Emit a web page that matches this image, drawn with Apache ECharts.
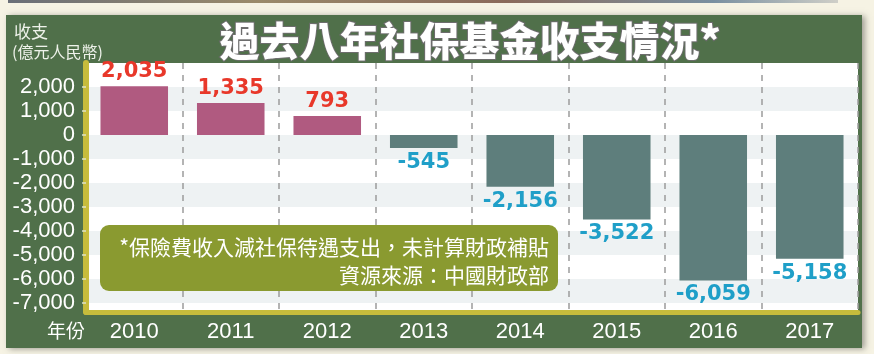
<!DOCTYPE html>
<html>
<head>
<meta charset="utf-8">
<script src="https://cdn.jsdelivr.net/npm/echarts@6/dist/echarts.min.js"></script>
<style>
html,body{margin:0;padding:0;background:#f6f3e4;}
#c{width:874px;height:354px;}
</style>
</head>
<body>
<div id="c"></div>
<script>
// ---- data ----
const categories = ['2010','2011','2012','2013','2014','2015','2016','2017'];
const balance = [2035, 1335, 793, -545, -2156, -3522, -6059, -5158];
const yTicks = [2000, 1000, 0, -1000, -2000, -3000, -4000, -5000, -6000, -7000];
const bandRanges = [[1000, 2000], [-1000, 0], [-3000, -2000], [-5000, -4000], [-7000, -6000]];
const titleText = '過去八年社保基金收支情況*';
const unitLine1 = '收支';
const unitLine2 = '(億元人民幣)';
const xName = '年份';
const note1 = '*保險費收入減社保待遇支出，未計算財政補貼';
const note2 = '資源來源：中國財政部';

const POS = '#b05a80', NEG = '#5e7e7c';
const POS_LBL = '#e8382a', NEG_LBL = '#1f9fc8';
const YELLOW = '#c7bc3c';
const CJK = '"Noto Sans CJK TC", "Noto Sans CJK SC", sans-serif';
const fmt = v => Number(v).toLocaleString('en-US');

const chart = echarts.init(document.getElementById('c'), null, {renderer: 'canvas'});

const barData = balance.map(v => ({
  value: v,
  itemStyle: {color: v >= 0 ? POS : NEG},
  label: {position: v >= 0 ? 'top' : 'bottom', color: v >= 0 ? POS_LBL : NEG_LBL}
}));

chart.setOption({
  backgroundColor: '#f6f3e4',
  animation: false,
  grid: {
    left: 86, right: 16, top: 63, bottom: 42,
    show: true, backgroundColor: '#ffffff', borderWidth: 0
  },
  xAxis: {
    type: 'category',
    data: categories,
    boundaryGap: true,
    z: 5,
    axisLine: {show: true, onZero: false, lineStyle: {color: YELLOW, width: 5}},
    axisTick: {show: false},
    axisLabel: {color: '#ffffff', fontSize: 22, fontFamily: '"Liberation Sans", Arial, sans-serif', margin: 9},
    splitLine: {show: true, interval: 0, lineStyle: {color: '#9c9c9c', width: 1.5, type: [6, 6]}}
  },
  yAxis: {
    type: 'value',
    min: -7375,
    max: 3000,
    z: 5,
    axisLine: {show: true, lineStyle: {color: YELLOW, width: 6}},
    axisTick: {show: true, customValues: yTicks, length: 4, lineStyle: {color: '#e0e2c8', width: 1.5}},
    axisLabel: {
      customValues: yTicks,
      color: '#ffffff', fontSize: 22, margin: 11,
      fontFamily: '"Liberation Sans", Arial, sans-serif',
      formatter: v => fmt(v)
    },
    splitLine: {show: false}
  },
  series: [{
    type: 'bar',
    data: barData,
    barWidth: '70%',
    z: 2,
    label: {
      show: true,
      distance: 4,
      fontSize: 21,
      fontWeight: 'bold',
      fontFamily: '"DejaVu Sans", Verdana, sans-serif',
      formatter: p => fmt(p.value)
    },
    markArea: {
      silent: true,
      itemStyle: {color: '#eef2f3'},
      label: {show: false},
      data: bandRanges.map(r => [{yAxis: r[0]}, {yAxis: r[1]}])
    }
  }],
  graphic: {
    elements: [
      {type: 'rect', z: -100, shape: {x: 8, y: 0, width: 830, height: 3},
        style: {fill: new echarts.graphic.LinearGradient(0, 0, 1, 0, [
          {offset: 0, color: '#6a6f78'}, {offset: 0.3, color: '#9a8a6a'},
          {offset: 0.6, color: '#8a6a5a'}, {offset: 0.85, color: '#7a90a0'}, {offset: 1, color: '#cfcfc8'}])}},
      {type: 'rect', z: -90, shape: {x: 6, y: 15, width: 856, height: 333},
        style: {fill: '#50704a', shadowBlur: 6, shadowColor: 'rgba(0,0,0,0.35)', shadowOffsetX: 3, shadowOffsetY: 1}},
      {type: 'text', z: 200, x: 470, y: 41,
        style: {text: titleText, fill: '#ffffff', font: '900 40px ' + CJK,
          align: 'center', verticalAlign: 'middle',
          stroke: '#6d6d6d', lineWidth: 2,
          shadowBlur: 3, shadowColor: 'rgba(0,0,0,0.5)', shadowOffsetX: 1, shadowOffsetY: 1}},
      {type: 'text', z: 200, x: 14, y: 32,
        style: {text: unitLine1, fill: '#eef2ea', font: '17px ' + CJK, align: 'left', verticalAlign: 'middle'}},
      {type: 'text', z: 200, x: 12, y: 52,
        style: {text: unitLine2, fill: '#eef2ea', font: '16px ' + CJK, align: 'left', verticalAlign: 'middle'}},
      {type: 'text', z: 200, x: 66, y: 331,
        style: {text: xName, fill: '#ffffff', font: '19px ' + CJK, align: 'center', verticalAlign: 'middle'}},
      {type: 'rect', z: 150, shape: {x: 100, y: 225, width: 458, height: 66, r: 9},
        style: {fill: '#8a9a30'}},
      {type: 'text', z: 151, x: 549, y: 247,
        style: {text: note1, fill: '#ffffff', font: '21px ' + CJK, align: 'right', verticalAlign: 'middle'}},
      {type: 'text', z: 151, x: 549, y: 275,
        style: {text: note2, fill: '#ffffff', font: '21px ' + CJK, align: 'right', verticalAlign: 'middle'}}
    ]
  }
});
</script>
</body>
</html>
